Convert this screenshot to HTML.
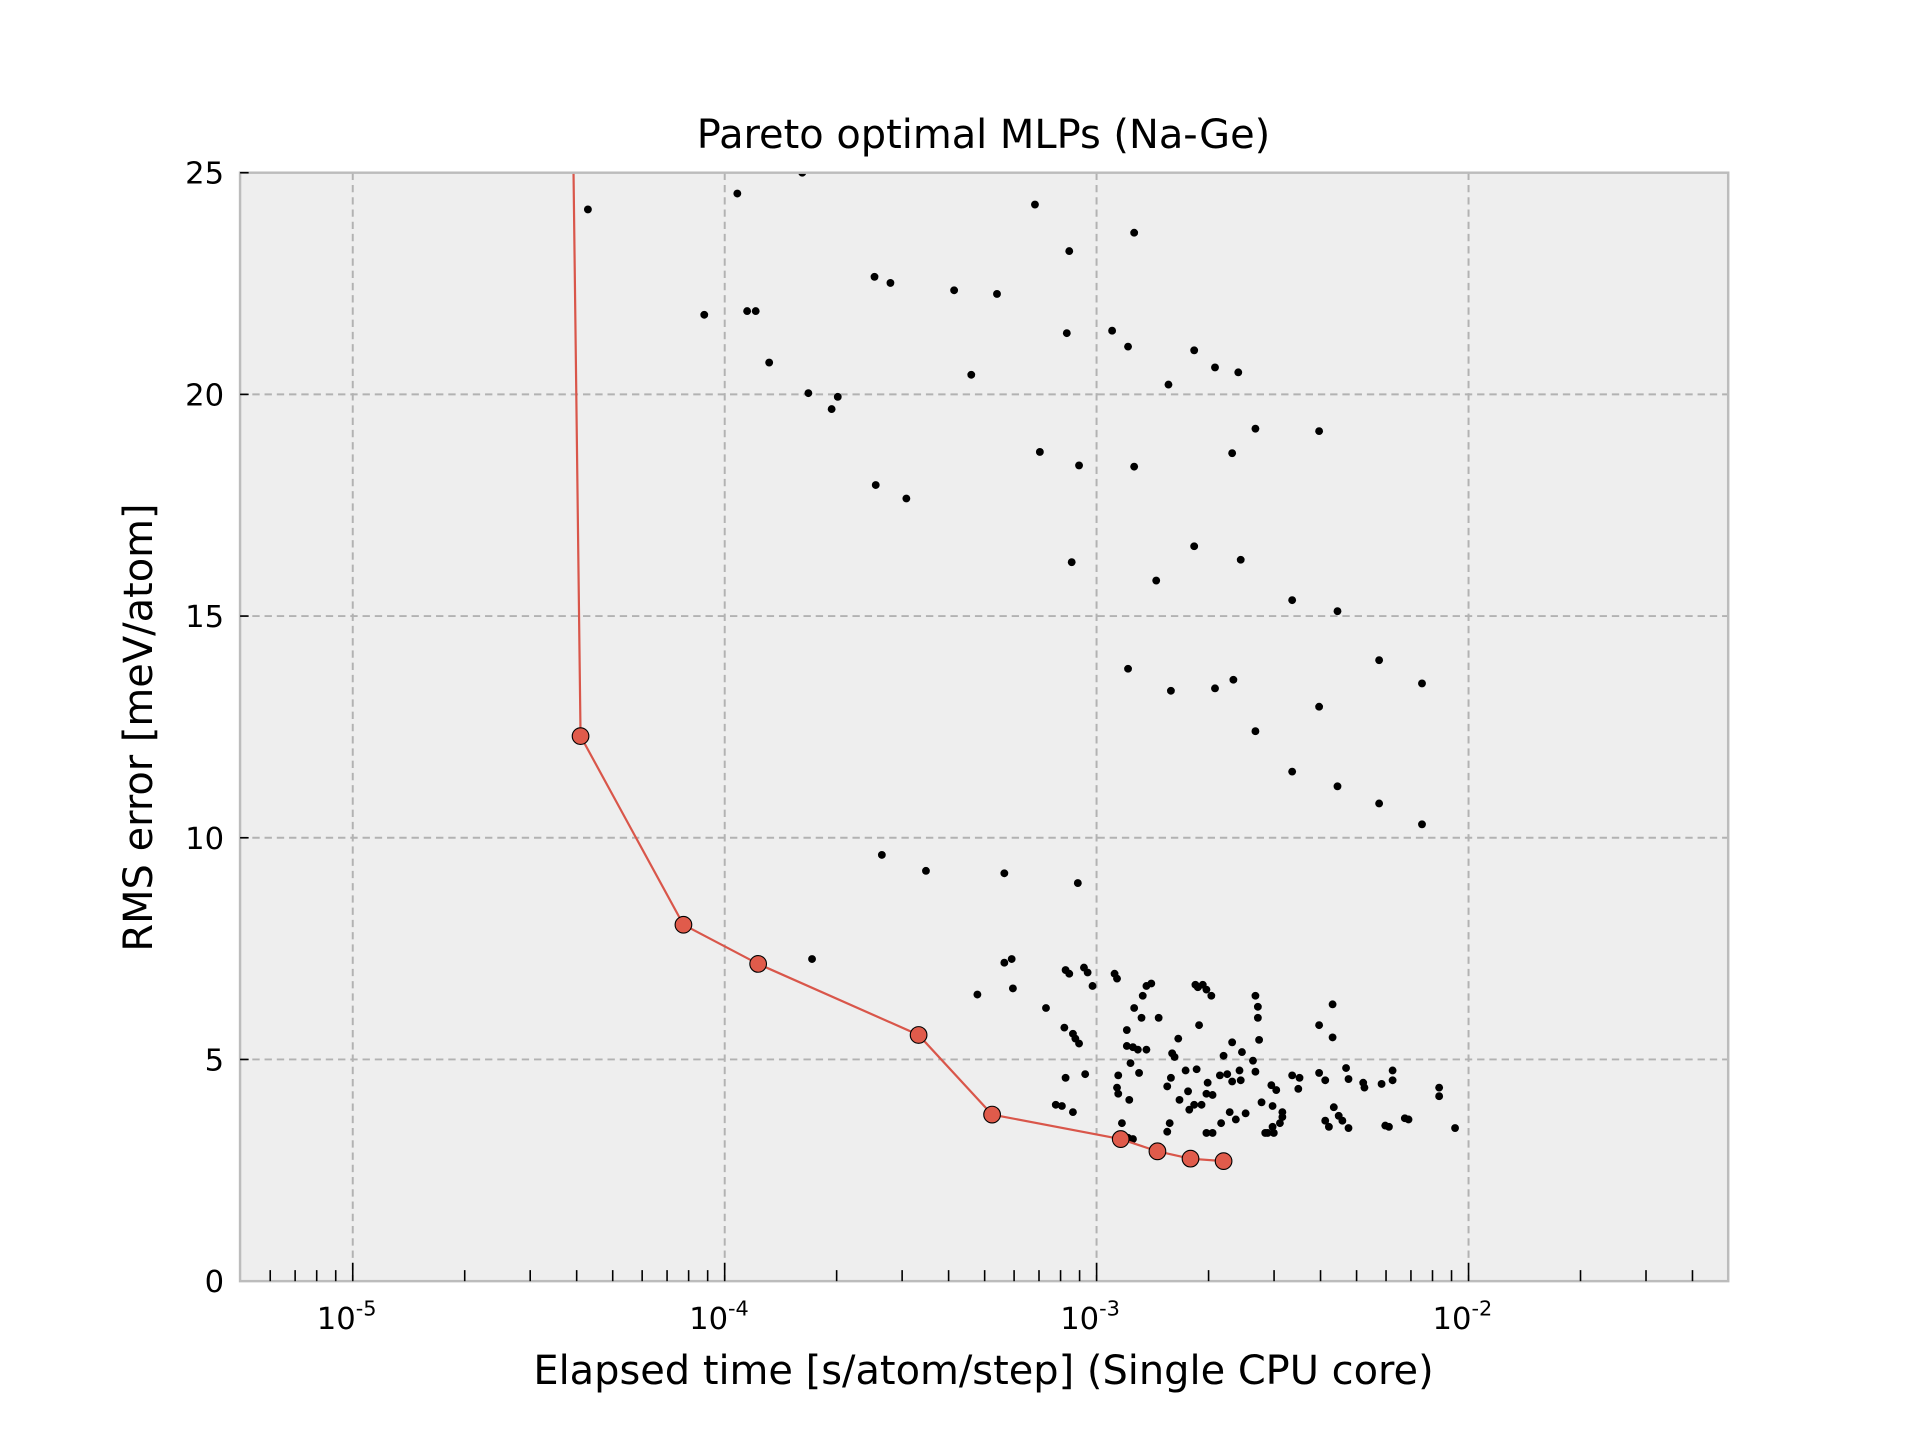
<!DOCTYPE html>
<html><head><meta charset="utf-8"><style>html,body{margin:0;padding:0;background:#fff}svg{display:block}</style></head><body>
<svg xmlns="http://www.w3.org/2000/svg" width="1920" height="1440" viewBox="0 0 1567.6 1175.7" font-family="'DejaVu Sans','Liberation Sans',sans-serif">
<rect x="0" y="0" width="1567.6" height="1175.7" fill="#fff"/>
<rect x="196" y="141" width="1215" height="905" fill="#eeeeee"/>
<g stroke="#b2b2b2" stroke-width="1.6" stroke-dasharray="6,4">
<line x1="288" y1="141" x2="288" y2="1046"/><line x1="591.7" y1="141" x2="591.7" y2="1046"/><line x1="895.3" y1="141" x2="895.3" y2="1046"/><line x1="1199" y1="141" x2="1199" y2="1046"/>
<line x1="196" y1="865" x2="1411" y2="865"/><line x1="196" y1="684" x2="1411" y2="684"/><line x1="196" y1="503" x2="1411" y2="503"/><line x1="196" y1="322" x2="1411" y2="322"/>
</g>
<svg x="196" y="141" width="1215" height="905" viewBox="196 141 1215 905" overflow="hidden">
<g fill="#000" id="pts"></g>
<polyline fill="none" stroke="#d9564a" stroke-width="1.8" points="468,120 474,601 558,755 619,787 750,845 810,910 915,930 945,940 972,946 999,948"/>
<g fill="#e05b4b" stroke="#000" stroke-width="0.9">
<circle cx="474" cy="601" r="6.8"/><circle cx="558" cy="755" r="6.8"/><circle cx="619" cy="787" r="6.8"/><circle cx="750" cy="845" r="6.8"/><circle cx="810" cy="910" r="6.8"/><circle cx="915" cy="930" r="6.8"/><circle cx="945" cy="940" r="6.8"/><circle cx="972" cy="946" r="6.8"/><circle cx="999" cy="948" r="6.8"/>
</g>
</svg>
<rect x="196" y="141" width="1215" height="905" fill="none" stroke="#bcbcbc" stroke-width="2"/>
<g stroke="#000" stroke-width="1.3" id="ticks"></g>
<g font-size="25" fill="#000" text-anchor="end">
<text x="183" y="1055">0</text><text x="183" y="874">5</text><text x="183" y="693">10</text><text x="183" y="512">15</text><text x="183" y="331">20</text><text x="183" y="150">25</text>
</g>
<g font-size="25" fill="#000" text-anchor="middle">
<text x="283" y="1085">10<tspan font-size="17" dy="-11">-5</tspan></text>
<text x="587" y="1085">10<tspan font-size="17" dy="-11">-4</tspan></text>
<text x="890" y="1085">10<tspan font-size="17" dy="-11">-3</tspan></text>
<text x="1194" y="1085">10<tspan font-size="17" dy="-11">-2</tspan></text>
</g>
<text x="803" y="121" font-size="32.6" text-anchor="middle">Pareto optimal MLPs (Na-Ge)</text>
<text x="803" y="1130" font-size="32.6" text-anchor="middle">Elapsed time [s/atom/step] (Single CPU core)</text>
<text transform="translate(124,594) rotate(-90)" font-size="32.6" text-anchor="middle">RMS error [meV/atom]</text>
<script>
var P=[[480,171],[602,158],[655,141],[845,167],[926,190],[873,205],[714,226],[727,231],[779,237],[814,240],[575,257],[610,254],[617,254],[628,296],[660,321],[684,324],[679,334],[793,306],[871,272],[908,270],[921,283],[975,286],[992,300],[1011,304],[954,314],[849,369],[881,380],[926,381],[1025,350],[1077,352],[1006,370],[715,396],[740,407],[875,459],[975,446],[1013,457],[944,474],[1055,490],[1092,499],[921,546],[956,564],[992,562],[1007,555],[1126,539],[1161,558],[1077,577],[1025,597],[1055,630],[1092,642],[1126,656],[1161,673],[720,698],[756,711],[820,713],[880,721],[663,783],[820,786],[826,783],[827,807],[798,812],[854,823],[870,792],[873,795],[885,790],[888,794],[892,805],[910,795],[912,799],[936,805],[940,803],[933,813],[932,831],[926,823],[920,841],[869,839],[876,844],[878,848],[881,852],[870,880],[886,877],[862,902],[867,903],[876,908],[946,831],[976,804],[978,806],[982,804],[985,808],[979,837],[989,813],[1025,813],[1027,822],[1027,831],[1088,820],[1077,837],[1088,847],[1028,849],[962,848],[957,860],[959,863],[913,878],[912,888],[913,893],[922,898],[923,868],[920,854],[925,855],[929,857],[936,857],[930,876],[977,873],[968,874],[956,880],[953,887],[970,891],[963,898],[971,906],[1006,851],[1014,859],[999,862],[1002,877],[1012,874],[1006,883],[996,878],[986,884],[985,893],[990,894],[1013,882],[1023,866],[1025,875],[1042,890],[1038,886],[1055,878],[1061,880],[1060,889],[1077,876],[1082,882],[1099,872],[1101,881],[1113,884],[1114,888],[1128,885],[1137,874],[1137,882],[1175,888],[1175,895],[1188,921],[1030,900],[1039,903],[1047,908],[1047,912],[1045,917],[1039,920],[1035,925],[1040,925],[1033,925],[1017,909],[1009,914],[1004,908],[997,917],[981,902],[975,902],[985,925],[990,925],[955,917],[953,924],[1089,904],[1093,911],[1096,915],[1082,915],[1085,920],[1101,921],[1131,919],[1134,920],[1147,913],[1150,914],[916,917],[921,929],[925,930]];
var ns="http://www.w3.org/2000/svg",g=document.getElementById("pts");
P.forEach(function(p){var c=document.createElementNS(ns,"circle");c.setAttribute("cx",p[0]);c.setAttribute("cy",p[1]);c.setAttribute("r",3.2);g.appendChild(c);});
var t=document.getElementById("ticks");
function L(x1,y1,x2,y2){var l=document.createElementNS(ns,"line");l.setAttribute("x1",x1);l.setAttribute("y1",y1);l.setAttribute("x2",x2);l.setAttribute("y2",y2);t.appendChild(l);}
for(var d=-6;d<=-2;d++){for(var m=1;m<10;m++){var v=d+Math.log10(m);var x=288+(v+5)*303.67;if(x<197||x>1410)continue;if(m==1)L(x,1046,x,1031);else L(x,1046,x,1037);}}
for(var k=1;k<=5;k++){var y=1046-k*181;L(196,y,203,y);}
</script>
</svg>
</body></html>
